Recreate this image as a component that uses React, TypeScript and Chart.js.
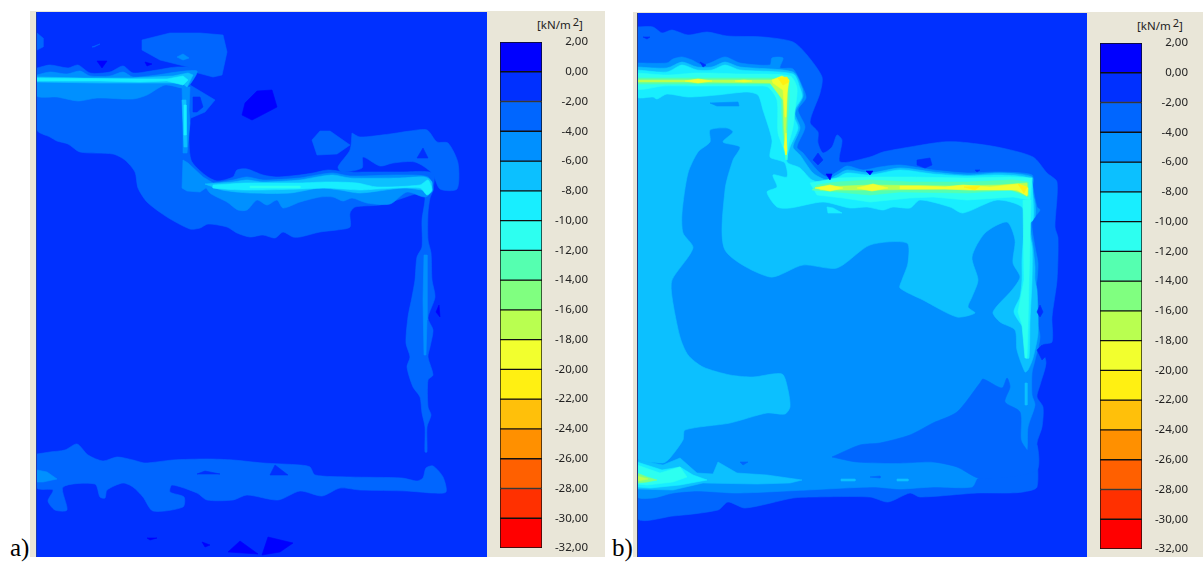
import React, { useEffect, useRef } from "react";
import { Chart, registerables } from "chart.js";

Chart.register(...registerables);

type Pt = [number, number];
type Region = [number, Pt[]];

// Colour scale: band i runs from bandEdges[i] to bandEdges[i + 1] (kN/m2)
const bandEdges = [2, 0, -2, -4, -6, -8, -10, -12, -14, -16, -18, -20, -22, -24, -26, -28, -30, -32];
const bandColors = [
  "#0000ff", "#0030ff", "#0066ff", "#0090ff", "#0cc0ff", "#18eeff", "#2dfff0", "#55ffb0", "#80ff80",
  "#b9ff50", "#f2ff2e", "#fff012", "#ffc00a", "#ff9000", "#ff6000", "#ff3000", "#ff0000",
];
const unitName = "kN/m";

// ---------- panel a) contour outlines (model x, y) ----------
const aField: Pt[] = [[37, 12], [487, 12], [487, 557], [37, 557]];
const aMain: Pt[] = [
  [37, 68], [50, 65], [68, 68], [78, 65], [90, 73], [110, 72], [123, 66], [133, 73], [157, 70], [177, 67], [197, 69],
  [190, 85], [188, 92], [191, 115], [189, 125], [191, 160], [205, 175], [217, 181], [233, 177], [237, 170], [247, 169],
  [263, 175], [277, 177], [300, 175], [313, 173], [328, 170], [347, 172], [377, 172], [400, 172], [433, 173], [433, 190],
  [430, 198], [428, 213], [428, 240], [431, 253], [432, 280], [435, 297], [428, 318], [433, 330], [430, 347], [428, 357],
  [433, 375], [428, 380], [428, 407], [431, 415], [427, 427], [427, 452], [425, 452], [425, 427], [422, 413], [420, 397],
  [413, 387], [407, 367], [410, 357], [406, 343], [408, 317], [412, 297], [415, 280], [417, 257], [422, 247], [422, 220],
  [425, 197], [420, 193], [397, 200], [380, 205], [355, 207], [350, 213], [350, 227], [337, 230], [320, 232], [300, 237],
  [293, 237], [283, 232], [275, 238], [263, 235], [250, 237], [237, 233], [227, 227], [208, 224], [200, 228], [190, 229],
  [167, 217], [147, 202], [138, 188], [135, 172], [125, 160], [113, 154], [80, 152], [68, 144], [57, 141], [50, 137], [37, 130],
];
const aCloud: Pt[] = [[142, 40], [170, 33], [200, 33], [223, 35], [227, 52], [222, 75], [213, 77], [198, 73], [188, 67], [160, 60], [142, 50]];
const aCloudCore: Pt[] = [[177, 57], [183, 54], [189, 58], [183, 60]];
const aEdgeSpot: Pt[] = [[37, 33], [43, 38], [43, 47], [37, 50]];
const aRing: Pt[] = [[190, 85], [215, 100], [205, 112], [191, 118], [188, 90]];
const aRingHole: Pt[] = [[193, 97], [200, 97], [203, 107], [197, 112], [193, 112]];
const aSliver: Pt[] = [[92, 47], [100, 44], [94, 47]];
const aBlobLeft: Pt[] = [[312, 140], [320, 131], [330, 131], [350, 145], [337, 154], [317, 155]];
const aBlobRight: Pt[] = [
  [352, 133], [360, 137], [390, 134], [410, 131], [427, 130], [437, 142], [448, 143], [458, 163], [457, 189], [440, 189],
  [432, 173], [415, 162], [393, 163], [380, 166], [363, 157], [362, 168], [342, 172], [338, 167], [350, 150],
];
const aBlobHole: Pt[] = [[417, 158], [423, 148], [428, 158]];
const aHigh1: Pt[] = [[257, 91], [272, 90], [277, 107], [258, 117], [252, 120], [242, 115], [245, 103]];
const aHigh2: Pt[] = [[97, 61], [107, 61], [102, 68]];
const aHigh3: Pt[] = [[145, 62], [152, 64], [147, 66]];
const aHigh4: Pt[] = [[436, 312], [439, 305], [440, 317]];
const aHigh5: Pt[] = [[228, 552], [240, 541], [258, 554]];
const aHigh6: Pt[] = [[262, 555], [268, 537], [293, 543], [280, 552]];
const aHigh7: Pt[] = [[202, 542], [210, 545], [205, 547]];
const aHigh8: Pt[] = [[147, 538], [157, 538], [150, 540]];
const aTopBand3: Pt[] = [
  [37, 75], [50, 72], [67, 74], [80, 71], [90, 76], [110, 76], [123, 72], [133, 77], [157, 75], [177, 72], [197, 71],
  [193, 80], [185, 88], [165, 85], [147, 95], [133, 99], [97, 98], [78, 101], [57, 97], [37, 96],
];
const aWall3: Pt[] = [[182, 87], [190, 87], [189, 110], [190, 123], [187, 153], [183, 153], [183, 123]];
const aKnee3: Pt[] = [[183, 160], [188, 163], [203, 177], [213, 183], [200, 192], [187, 191], [182, 188]];
const aMidBand3: Pt[] = [
  [203, 182], [213, 183], [233, 180], [247, 177], [263, 180], [300, 178], [317, 175], [333, 173], [350, 176], [400, 175],
  [428, 177], [433, 190], [425, 197], [407, 192], [390, 204], [367, 203], [352, 198], [343, 201], [333, 197], [320, 197],
  [300, 202], [283, 208], [277, 200], [267, 205], [257, 200], [247, 210], [238, 210], [227, 202], [210, 193],
];
const aStreak3: Pt[] = [[424, 255], [427, 255], [427, 320], [426, 355], [424, 355], [423, 300]];
const aTopBand4: Pt[] = [
  [37, 77], [85, 78], [133, 78], [173, 76], [188, 73], [193, 75], [187, 87], [182, 83], [160, 83], [140, 83], [100, 83], [37, 82],
];
const aWall4: Pt[] = [[182, 100], [186, 100], [187, 147], [184, 147]];
const aMidBand4: Pt[] = [
  [205, 184], [233, 182], [247, 180], [263, 182], [300, 180], [317, 177], [333, 175], [350, 178], [400, 178], [425, 177],
  [432, 182], [430, 192], [422, 190], [403, 188], [360, 193], [340, 190], [320, 188], [290, 193], [250, 193], [222, 190],
];
const aTopBand5: Pt[] = [[37, 78], [133, 79], [167, 79], [183, 76], [188, 80], [183, 85], [167, 81], [140, 82], [100, 81], [37, 81]];
const aWall5: Pt[] = [[184, 105], [186, 105], [186, 135], [184, 135]];
const aMidBand5: Pt[] = [
  [213, 185], [247, 183], [300, 183], [327, 182], [357, 183], [377, 187], [420, 185], [428, 180], [432, 190], [427, 195],
  [420, 188], [377, 189], [360, 190], [327, 188], [300, 189], [247, 190], [213, 188],
];
const aMidBand6: Pt[] = [[250, 186], [300, 186], [300, 188], [250, 188]];
const aFoot: Pt[] = [
  [37, 454], [50, 452], [65, 450], [77, 444], [88, 455], [103, 461], [117, 457], [133, 460], [145, 463], [173, 460], [207, 459],
  [233, 460], [263, 463], [300, 465], [310, 467], [315, 475], [350, 477], [402, 478], [417, 481], [423, 478], [426, 468],
  [433, 466], [443, 477], [446, 492], [433, 493], [407, 491], [360, 490], [340, 488], [322, 496], [300, 491], [278, 500],
  [247, 495], [233, 500], [207, 500], [197, 493], [172, 485], [170, 492], [184, 497], [183, 507], [153, 511], [143, 497],
  [133, 487], [123, 483], [107, 490], [105, 498], [100, 497], [95, 484], [63, 487], [67, 510], [55, 510], [48, 501], [53, 490], [37, 488],
];
const aFootHole1: Pt[] = [[270, 475], [275, 465], [288, 475]];
const aFootHole2: Pt[] = [[197, 474], [205, 471], [220, 474]];
const aFootCore: Pt[] = [[37, 470], [47, 472], [57, 479], [43, 482], [37, 482]];

const panelA: Region[] = [
  [1, aField], [2, aMain], [2, aCloud], [3, aCloudCore], [2, aEdgeSpot], [2, aRing], [1, aRingHole], [2, aSliver],
  [2, aBlobLeft], [2, aBlobRight], [1, aBlobHole], [0, aHigh1], [0, aHigh2], [0, aHigh3], [0, aHigh4], [0, aHigh5],
  [0, aHigh6], [0, aHigh7], [0, aHigh8], [3, aTopBand3], [3, aWall3], [3, aKnee3], [3, aMidBand3], [3, aStreak3],
  [4, aTopBand4], [4, aWall4], [4, aMidBand4], [5, aTopBand5], [5, aWall5], [5, aMidBand5], [6, aMidBand6],
  [2, aFoot], [1, aFootHole1], [1, aFootHole2], [3, aFootCore],
];

// ---------- panel b) contour outlines (model x, y) ----------
const bField: Pt[] = [[637, 13], [1087, 13], [1087, 557], [637, 557]];
const bOuter2: Pt[] = [
  [637, 27], [653, 27], [662, 33], [672, 30], [688, 35], [707, 32], [727, 36], [763, 37], [793, 42], [807, 55], [822, 77],
  [820, 93], [810, 122], [818, 132], [818, 143], [823, 153], [832, 147], [837, 135], [842, 140], [840, 162], [870, 157],
  [883, 152], [910, 147], [942, 142], [960, 142], [997, 147], [1033, 157], [1047, 173], [1057, 182], [1055, 227], [1058, 238],
  [1057, 280], [1052, 317], [1052, 342], [1042, 345], [1046, 363], [1040, 385], [1037, 397], [1043, 407], [1042, 427],
  [1037, 443], [1037, 487], [1023, 492], [1007, 493], [977, 493], [920, 497], [910, 493], [888, 502], [870, 497], [813, 497],
  [793, 498], [745, 508], [728, 502], [718, 510], [673, 516], [637, 517],
];
const bOuter3: Pt[] = [
  [637, 63], [667, 63], [673, 59], [682, 57], [692, 60], [702, 65], [710, 63], [725, 57], [740, 63], [770, 65], [772, 58],
  [783, 58], [780, 68], [793, 69], [803, 88], [806, 98], [798, 110], [805, 127], [797, 147], [803, 153], [817, 170], [827, 177],
  [837, 172], [847, 166], [863, 170], [880, 167], [900, 165], [933, 170], [967, 173], [1000, 172], [1032, 175], [1033, 187],
  [1037, 207], [1040, 210], [1032, 222], [1035, 247], [1038, 263], [1037, 280], [1035, 290], [1035, 313], [1040, 337],
  [1035, 360], [1032, 373], [1032, 395], [1035, 405], [1028, 427], [1027, 450], [1020, 470], [978, 478], [972, 487], [933, 487],
  [900, 489], [873, 487], [807, 490], [737, 493], [697, 491], [673, 493], [653, 498], [637, 496],
];
const bWedge2: Pt[] = [
  [832, 457], [860, 445], [880, 443], [910, 435], [933, 423], [957, 412], [980, 383], [983, 379], [1002, 388], [1007, 378],
  [1010, 387], [1005, 402], [1020, 412], [1021, 440], [1027, 450], [1030, 452], [1037, 445], [1037, 470], [1000, 478], [978, 478],
  [957, 467], [933, 462], [900, 463], [857, 462],
];
const bBody4: Pt[] = [
  [637, 67], [667, 68], [682, 62], [697, 67], [712, 67], [725, 62], [740, 67], [793, 72], [802, 88], [803, 97], [795, 113],
  [800, 128], [793, 147], [800, 155], [813, 173], [827, 180], [837, 175], [847, 170], [870, 173], [900, 168], [933, 172],
  [967, 175], [1000, 173], [1032, 177], [1032, 190], [1035, 203], [1035, 217], [1030, 223], [1033, 247], [1035, 267], [1035, 280],
  [1037, 290], [1038, 333], [1033, 358], [1028, 370], [1025, 372], [1017, 350], [1015, 330], [1000, 322], [993, 312], [1012, 290],
  [1020, 277], [1013, 263], [1015, 240], [1007, 222], [985, 233], [972, 257], [978, 280], [972, 297], [968, 307], [975, 313],
  [957, 317], [923, 300], [900, 288], [902, 280], [908, 263], [907, 243], [870, 245], [837, 268], [803, 265], [770, 277], [725, 250],
  [725, 190], [733, 160], [740, 147], [723, 142], [733, 132], [727, 128], [710, 130], [710, 142], [698, 152], [688, 173], [682, 213],
  [683, 233], [693, 248], [672, 280], [672, 297], [680, 337], [688, 355], [703, 367], [730, 375], [753, 377], [782, 374], [788, 390],
  [790, 407], [785, 414], [767, 413], [730, 423], [685, 430], [683, 440], [670, 458], [663, 463], [637, 457],
];
const bTip4: Pt[] = [[1025, 383], [1027, 383], [1027, 405], [1025, 405]];
const bLower4: Pt[] = [
  [637, 460], [663, 465], [680, 458], [697, 473], [713, 474], [718, 462], [737, 473], [767, 475], [802, 480], [790, 483],
  [757, 484], [703, 483], [673, 490], [637, 489],
];
const bDash1: Pt[] = [[841, 479], [855, 479], [855, 481], [841, 481]];
const bDash2: Pt[] = [[897, 479], [908, 479], [908, 481], [897, 481]];
const bSliver3: Pt[] = [[710, 103], [738, 102], [739, 106], [717, 106]];
const bBand5: Pt[] = [
  [637, 70], [667, 72], [682, 65], [697, 70], [712, 70], [725, 65], [740, 70], [793, 74], [800, 88], [802, 97], [793, 113],
  [798, 128], [790, 147], [787, 162], [800, 168], [812, 180], [827, 183], [837, 178], [847, 173], [870, 175], [900, 170],
  [933, 174], [967, 176], [1000, 175], [1030, 179], [1033, 200], [1033, 220], [1028, 225], [1032, 247], [1032, 280], [1030, 320],
  [1029, 358], [1026, 358], [1024, 330], [1014, 312], [1020, 297], [1022, 280], [1022, 260], [1024, 225], [1022, 207], [997, 200],
  [963, 213], [950, 207], [920, 200], [910, 208], [893, 207], [883, 210], [867, 207], [850, 208], [823, 202], [790, 208], [777, 207],
  [767, 192], [777, 187], [773, 175], [787, 177], [785, 163], [778, 160], [770, 157], [772, 140], [763, 110], [758, 95], [747, 92],
  [717, 95], [688, 97], [667, 94], [657, 99], [653, 97], [637, 97],
];
const bFleck5: Pt[] = [[827, 207], [833, 208], [842, 213], [828, 213]];
const bLower5: Pt[] = [[637, 462], [662, 470], [680, 467], [693, 475], [707, 480], [680, 485], [650, 488], [637, 487]];
const bLower6: Pt[] = [[637, 465], [660, 473], [680, 467], [687, 477], [673, 482], [647, 485], [637, 484]];
const bLower8: Pt[] = [[637, 473], [647, 477], [657, 480], [647, 482], [637, 483]];
const bLower9: Pt[] = [[637, 476], [648, 479], [637, 481]];
const bTop6: Pt[] = [
  [637, 73], [667, 75], [697, 73], [740, 74], [790, 76], [797, 88], [795, 110], [793, 127], [788, 147], [787, 160], [783, 147],
  [778, 133], [777, 100], [768, 87], [757, 86], [697, 86], [663, 86], [637, 89],
];
const bMid6: Pt[] = [
  [810, 183], [837, 178], [870, 177], [910, 177], [967, 178], [1010, 177], [1032, 178], [1030, 200], [1013, 197], [967, 200],
  [933, 197], [910, 198], [870, 202], [843, 198], [817, 195],
];
const bWall6: Pt[] = [[1023, 200], [1031, 200], [1029, 280], [1028, 325], [1027, 358], [1025, 358], [1022, 325], [1018, 312], [1024, 280]];
const bTop7: Pt[] = [[637, 78], [700, 78], [775, 78], [789, 78], [789, 100], [787, 135], [786, 160], [783, 135], [781, 100], [775, 84], [700, 84], [637, 84]];
const bMid7: Pt[] = [
  [817, 185], [837, 182], [870, 180], [910, 182], [967, 182], [1013, 180], [1028, 182], [1028, 197], [1010, 190], [967, 193],
  [900, 192], [870, 195], [837, 192], [812, 190],
];
const bTop9: Pt[] = [[637, 80], [700, 80], [770, 80], [788, 79], [787, 100], [786, 130], [786, 155], [784, 130], [783, 100], [770, 83], [700, 82], [637, 82]];
const bMid9: Pt[] = [[820, 187], [870, 185], [950, 186], [1000, 185], [1027, 183], [1028, 195], [1010, 189], [950, 189], [870, 190], [820, 190]];
const bHot1: Pt[] = [[685, 81], [698, 79], [712, 81], [698, 83]];
const bHot2: Pt[] = [[735, 81], [744, 80], [752, 81], [744, 82]];
const bHot3: Pt[] = [[772, 80], [782, 76], [789, 80], [787, 93], [786, 117], [785, 117], [783, 90], [773, 83]];
const bHot4: Pt[] = [[785, 140], [786, 133], [787, 150], [786, 155], [784, 147]];
const bHot5: Pt[] = [[815, 188], [830, 185], [843, 188], [830, 191]];
const bHot6: Pt[] = [[857, 188], [873, 184], [888, 188], [872, 191]];
const bHot7: Pt[] = [
  [900, 186], [920, 186], [945, 187], [963, 185], [990, 187], [1018, 184], [1028, 188], [1027, 196], [1017, 190], [970, 190], [945, 189], [900, 189],
];
const bPeak1: Pt[] = [[778, 78], [787, 77], [789, 82], [783, 85]];
const bPeak2: Pt[] = [[964, 187], [980, 186], [975, 190]];
const bPeak3: Pt[] = [[1018, 184], [1027, 187], [1024, 193]];
const bDent1: Pt[] = [[700, 62], [706, 65], [703, 67]];
const bDent2: Pt[] = [[826, 174], [832, 174], [830, 180]];
const bDent3: Pt[] = [[866, 171], [873, 171], [870, 175]];
const bDent4: Pt[] = [[813, 160], [818, 153], [823, 160], [818, 165]];
const bDent5: Pt[] = [[643, 37], [650, 37], [647, 39]];
const bDent6: Pt[] = [[917, 160], [930, 158], [932, 165], [925, 168], [917, 165]];
const bDent7: Pt[] = [[975, 170], [980, 170], [977, 172]];
const bDent8: Pt[] = [[1037, 312], [1040, 305], [1043, 312], [1040, 317]];
const bDent9: Pt[] = [[1037, 350], [1042, 345], [1047, 355], [1042, 360]];
const bDent10: Pt[] = [[740, 462], [748, 462], [743, 465]];
const bDent11: Pt[] = [[870, 477], [880, 476], [880, 478]];

const panelB: Region[] = [
  [1, bField], [2, bOuter2], [3, bOuter3], [2, bWedge2], [4, bBody4], [4, bTip4], [4, bLower4], [4, bDash1], [4, bDash2],
  [3, bSliver3], [5, bBand5], [5, bFleck5], [5, bLower5], [6, bLower6], [8, bLower8], [9, bLower9], [6, bTop6], [6, bMid6],
  [6, bWall6], [7, bTop7], [7, bMid7], [9, bTop9], [9, bMid9], [10, bHot1], [10, bHot2], [10, bHot3], [10, bHot4], [10, bHot5],
  [10, bHot6], [10, bHot7], [11, bPeak1], [11, bPeak2], [11, bPeak3], [1, bDent1], [0, bDent2], [0, bDent3], [1, bDent4],
  [1, bDent5], [1, bDent6], [1, bDent7], [1, bDent8], [1, bDent9], [2, bDent10], [2, bDent11],
];

const tickFont = "'Noto Sans'";

function ContourMap({ regions, left, top, width, height }: { regions: Region[]; left: number; top: number; width: number; height: number }) {
  const ref = useRef<HTMLCanvasElement>(null);
  useEffect(() => {
    // Chart.js paints the first dataset last, so the list is reversed
    const datasets = regions
      .map(([band, pts]) => ({
        data: [...pts, pts[0]].map(([x, y]) => ({ x, y })),
        showLine: true,
        fill: "shape",
        tension: pts.length > 15 ? 0.25 : 0,
        pointRadius: 0,
        borderWidth: 0.6,
        borderColor: bandColors[band],
        backgroundColor: bandColors[band],
      }))
      .reverse();
    const chart = new Chart(ref.current!, {
      type: "scatter",
      data: { datasets } as any,
      options: {
        animation: false,
        responsive: false,
        layout: { padding: 0 },
        plugins: { legend: { display: false }, tooltip: { enabled: false } },
        scales: {
          x: { type: "linear", display: false, min: left, max: left + width },
          y: { type: "linear", display: false, min: top, max: top + height, reverse: true },
        },
      },
    });
    return () => chart.destroy();
  }, []);
  return (
    <canvas ref={ref} width={width} height={height}
      style={{ position: "absolute", left, top, width, height, display: "block" }} />
  );
}

function ColorBar({ left, top }: { left: number; top: number }) {
  const ref = useRef<HTMLCanvasElement>(null);
  useEffect(() => {
    const datasets = bandColors.map((color, i) => ({
      data: [[bandEdges[i + 1], bandEdges[i]]],
      backgroundColor: color,
      borderColor: "#101010",
      borderWidth: 1,
      borderSkipped: false,
      grouped: false,
      barPercentage: 1,
      categoryPercentage: 1,
    }));
    const chart = new Chart(ref.current!, {
      type: "bar",
      data: { labels: ["band"], datasets } as any,
      options: {
        animation: false,
        responsive: false,
        layout: { padding: { top: 10, bottom: 9 } },
        plugins: { legend: { display: false }, tooltip: { enabled: false } },
        scales: {
          x: { display: false },
          y: {
            type: "linear",
            position: "right",
            min: -32,
            max: 2,
            afterFit: (s: any) => { s.width = 46; s.paddingTop = 0; s.paddingBottom = 0; },
            grid: { display: false, drawTicks: false },
            border: { display: false },
            ticks: {
              stepSize: 2,
              autoSkip: false,
              padding: 12,
              crossAlign: "far",
              color: "#222222",
              font: { family: tickFont, size: 11.5 },
              callback: (v: any) => Number(v).toFixed(2).replace(".", ","),
            },
          },
        },
      },
    });
    return () => chart.destroy();
  }, []);
  return (
    <canvas ref={ref} width={88} height={525}
      style={{ position: "absolute", left, top, width: 88, height: 525, display: "block" }} />
  );
}

function Unit({ left, top }: { left: number; top: number }) {
  return (
    <div style={{ position: "absolute", left, top, font: `11.5px ${tickFont}`, color: "#222", whiteSpace: "nowrap", lineHeight: "14px" }}>
      [{unitName}
      <span style={{ fontSize: 11, position: "relative", top: -3, marginLeft: 2 }}>2</span>]
    </div>
  );
}

function Tag({ left, text }: { left: number; text: string }) {
  return (
    <div style={{ position: "absolute", left, top: 533, font: "25px 'Liberation Serif'", color: "#000", lineHeight: "30px" }}>{text}</div>
  );
}

export default function App() {
  return (
    <div style={{ position: "absolute", left: 0, top: 0, width: 1203, height: 562, background: "#fff", overflow: "hidden" }}>
      <div style={{ position: "absolute", left: 30, top: 11, width: 575, height: 546, background: "#e9e6d8" }} />
      <div style={{ position: "absolute", left: 633, top: 12, width: 570, height: 545, background: "#e9e6d8" }} />
      <ContourMap regions={panelA} left={37} top={12} width={450} height={545} />
      <ContourMap regions={panelB} left={637} top={13} width={450} height={544} />
      <div style={{ position: "absolute", left: 36, top: 12, width: 1, height: 545, background: "#1b3cb8" }} />
      <div style={{ position: "absolute", left: 637, top: 13, width: 1, height: 544, background: "#2a3a80" }} />
      <ColorBar left={500} top={32} />
      <ColorBar left={1100} top={33} />
      <Unit left={537} top={18} />
      <Unit left={1137} top={19} />
      <Tag left={10} text="a)" />
      <Tag left={612} text="b)" />
    </div>
  );
}
